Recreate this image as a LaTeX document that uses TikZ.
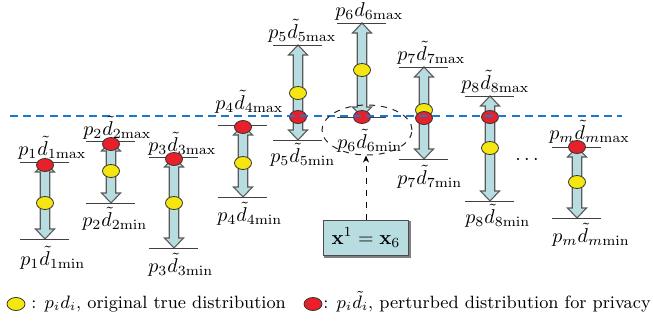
\documentclass[tikz,border=0pt]{standalone}
\usetikzlibrary{calc,arrows.meta,shapes.geometric}
\definecolor{afill}{HTML}{B7DDE1}
\definecolor{aline}{HTML}{5A5A5A}
\definecolor{ydotc}{HTML}{F5E60F}
\definecolor{rdotc}{HTML}{E8202A}
\definecolor{bline}{HTML}{1A78D0}
\tikzset{
  barrow/.style={fill=afill,draw=aline,line width=0.55pt,line join=miter},
  tick/.style={draw=black!75,line width=0.5pt},
  dotbase/.style={ellipse,draw=black!80,line width=0.4pt,minimum width=8.5pt,minimum height=6.5pt,inner sep=0pt},
  ydot/.style={dotbase,fill=ydotc},
  rdot/.style={dotbase,fill=rdotc},
  lab/.style={inner sep=0pt,anchor=base west,font=\normalsize},
  legtext/.style={inner sep=0pt,anchor=base west,font=\fontsize{8.9}{11}\selectfont},
}
\newcommand{\blockarr}[2]{%
 \draw[barrow] (#1) -- ($(#1)+(9.5,10)$) -- ($(#1)+(4.75,10)$) -- ($(#2)+(4.75,-10)$) -- ($(#2)+(9.5,-10)$) -- (#2) -- ($(#2)+(-9.5,-10)$) -- ($(#2)+(-4.75,-10)$) -- ($(#1)+(-4.75,10)$) -- ($(#1)+(-9.5,10)$) -- cycle;
 \draw[tick] ($(#1)+(-25,0)$) -- ($(#1)+(24,0)$);
 \draw[tick] ($(#2)+(-25,0)$) -- ($(#2)+(24,0)$);}
\begin{document}
\begin{tikzpicture}[x=0.5pt,y=-0.5pt]
\useasboundingbox (0,0) rectangle (653,322);
% coordinates of the top / bottom marks
\coordinate (t1) at (45,162);  \coordinate (b1) at (45,239);
\coordinate (t2) at (111,141); \coordinate (b2) at (111,203);
\coordinate (t3) at (174,157); \coordinate (b3) at (174,248);
\coordinate (t4) at (243,125); \coordinate (b4) at (243,197);
\coordinate (t5) at (298,45);  \coordinate (b5) at (298,140);
\coordinate (t6) at (362,23);  \coordinate (b6) at (362,117);
\coordinate (t7) at (424,67);  \coordinate (b7) at (424,159);
\coordinate (t8) at (490,96);  \coordinate (b8) at (490,201);
\coordinate (tm) at (577,147); \coordinate (bm) at (577,218);
\foreach \k in {1,2,3,4,5,6,7,8,m} {\blockarr{t\k}{b\k}}
% yellow dots
\node[ydot] (y1) at (45,203) {};
\node[ydot] (y2) at (111,171) {};
\node[ydot] (y3) at (174,203) {};
\node[ydot] (y4) at (243,163) {};
\node[ydot] (y5) at (298,93) {};
\node[ydot] (y6) at (362,70) {};
\node[ydot] (y7) at (424,110) {};
\node[ydot] (y8) at (490,148) {};
\node[ydot] (ym) at (577,182) {};
% red dots
\node[rdot] (r1) at (45,165) {};
\node[rdot] (r2) at (111,144) {};
\node[rdot] (r3) at (174,159) {};
\node[rdot] (r4) at (243,127) {};
\node[rdot] (r5) at (298,117) {};
\node[rdot] (r6) at (362,117) {};
\node[rdot] (r7) at (424,118) {};
\node[rdot] (r8) at (490,117) {};
\node[rdot] (rm) at (577,147) {};
% blue dashed level
\coordinate (bl0) at (10,116);
\coordinate (bl1) at (622,116);
\draw[bline,line width=1pt,dash pattern=on 4pt off 2.6pt] (bl0) -- (bl1);
% labels
\node[lab] (l1a) at (18,155) {$p_1\tilde d_{1\mathrm{max}}$};
\node[lab] (l1b) at (20,265) {$p_1\tilde d_{1\mathrm{min}}$};
\node[lab] (l2a) at (83,135) {$p_2\tilde d_{2\mathrm{max}}$};
\node[lab] (l2b) at (82,226) {$p_2\tilde d_{2\mathrm{min}}$};
\node[lab] (l3a) at (148,151) {$p_3\tilde d_{3\mathrm{max}}$};
\node[lab] (l3b) at (148,272) {$p_3\tilde d_{3\mathrm{min}}$};
\node[lab] (l4a) at (215,109) {$p_4\tilde d_{4\mathrm{max}}$};
\node[lab] (l4b) at (217,221) {$p_4\tilde d_{4\mathrm{min}}$};
\node[lab] (l5a) at (268,38) {$p_5\tilde d_{5\mathrm{max}}$};
\node[lab] (l5b) at (270,162) {$p_5\tilde d_{5\mathrm{min}}$};
\node[lab] (l6a) at (335,16) {$p_6 d_{6\mathrm{max}}$};
\node[lab] (l6b) at (337,148) {$p_6\tilde d_{6\mathrm{min}}$};
\node[lab] (l7a) at (397,60) {$p_7\tilde d_{7\mathrm{max}}$};
\node[lab] (l7b) at (397,184) {$p_7\tilde d_{7\mathrm{min}}$};
\node[lab] (l8a) at (461,89) {$p_8\tilde d_{8\mathrm{max}}$};
\node[lab] (l8b) at (465,223) {$p_8\tilde d_{8\mathrm{min}}$};
\node[lab] (lma) at (549,139) {$p_m\tilde d_{m\mathrm{max}}$};
\node[lab] (lmb) at (552,242) {$p_m\tilde d_{m\mathrm{min}}$};
\node (dots) at (527,160) {$\cdots$};
% highlight ellipse and box
\node[ellipse,draw=black!85,dashed,line width=0.5pt,minimum width=45pt,minimum height=25pt,inner sep=0pt] (ell) at (367,130) {};
\draw[black!50,line width=1.2pt] (324,256.5) -- (409.5,256.5) -- (409.5,221);
\node[draw=black!70,fill=afill,line width=0.5pt,minimum width=42.5pt,minimum height=17.5pt,inner sep=0pt] (box) at (366,237.5) {$\mathbf{x}^1=\mathbf{x}_6$};
\draw[dashed,line width=0.5pt,-{Stealth[length=3.5pt,width=3pt]}] (box.north) -- (box.north |- ell.south);
% legend
\node[ydot,minimum width=9pt] (ly) at (16,304) {};
\node[legtext] (lyt) at (31,308) {: $p_i d_i$, original true distribution};
\node[rdot,minimum width=9pt] (lr) at (313,304) {};
\node[legtext] (lrt) at (323,308) {: $p_i\tilde d_i$, perturbed distribution for privacy};
\end{tikzpicture}
\end{document}
